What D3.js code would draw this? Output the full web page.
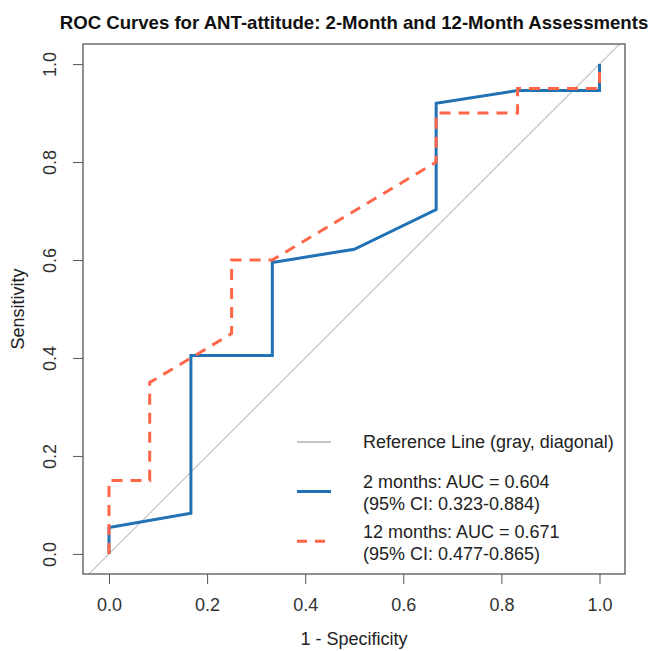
<!DOCTYPE html>
<html>
<head>
<meta charset="utf-8">
<script src="https://cdn.jsdelivr.net/npm/d3@7"></script>
<style>
	body { margin: 0; background: #fff; }
	svg text { font-family: "Liberation Sans", Arial, sans-serif; fill: #222; }
</style>
</head>
<body>
<div id="chart"></div>
<script>

// ROC points, x = 1 - specificity, y = sensitivity
var fpr2m = [0, 0, 0.167, 0.167, 0.333, 0.333, 0.5, 0.667, 0.667, 0.833, 1, 1];
var tpr2m = [0, 0.054, 0.083, 0.405, 0.405, 0.595, 0.622, 0.703, 0.92, 0.946, 0.946, 1];

var fpr12m = [0, 0, 0.083, 0.083, 0.167, 0.25, 0.25, 0.333, 0.5, 0.667, 0.667, 0.833, 0.833, 1, 1];
var tpr12m = [0, 0.15, 0.15, 0.35, 0.40, 0.45, 0.60, 0.60, 0.70, 0.80, 0.90, 0.90, 0.95, 0.95, 1];

var xTicks = [0, 0.2, 0.4, 0.6, 0.8, 1.0];
var yTicks = [0, 0.2, 0.4, 0.6, 0.8, 1.0];

var legendLabels = [
	["Reference Line (gray, diagonal)"],
	["2 months: AUC = 0.604", "(95% CI: 0.323-0.884)"],
	["12 months: AUC = 0.671", "(95% CI: 0.477-0.865)"]
];

var width = 648, height = 651;
var box = {left: 83, right: 625, top: 44, bottom: 574};

var colGray = "#c4c4c4", colBlue = "#2171b5", colRed = "#ff6647";

var svg = d3.select("#chart").append("svg")
			.attr("width", width)
			.attr("height", height);

var x = d3.scaleLinear().domain([-0.053, 1.052]).range([box.left, box.right]);
var y = d3.scaleLinear().domain([-0.041, 1.041]).range([box.bottom, box.top]);

svg.append("clipPath").attr("id", "plotclip")
	.append("rect")
	.attr("x", box.left).attr("y", box.top)
	.attr("width", box.right - box.left).attr("height", box.bottom - box.top);

// title
svg.append("text")
	.attr("x", 354)
	.attr("y", 29)
	.attr("text-anchor", "middle")
	.style("font-size", "18.6px")
	.style("font-weight", "bold")
	.style("fill", "#111")
	.text("ROC Curves for ANT-attitude: 2-Month and 12-Month Assessments");

// axes
var xAxis = d3.axisBottom(x).tickValues(xTicks).tickSize(10).tickPadding(14)
			.tickFormat(d3.format(".1f"));
var gx = svg.append("g").attr("transform", "translate(0," + box.bottom + ")").call(xAxis);
gx.select(".domain").remove();
gx.selectAll("line").attr("stroke", "#555");
gx.selectAll("text").style("font-size", "18px").style("fill", "#333").attr("font-family", null);

var yAxis = d3.axisLeft(y).tickValues(yTicks).tickSize(10).tickFormat(d3.format(".1f"));
var gy = svg.append("g").attr("transform", "translate(" + box.left + ",0)").call(yAxis);
gy.select(".domain").remove();
gy.selectAll("line").attr("stroke", "#555");
gy.selectAll("text")
	.attr("x", null).attr("dy", null)
	.attr("text-anchor", "middle")
	.attr("transform", "translate(-27,0) rotate(-90)")
	.style("font-size", "18px").style("fill", "#333").attr("font-family", null);

// axis labels
svg.append("text")
	.attr("x", (box.left + box.right) / 2)
	.attr("y", 645)
	.attr("text-anchor", "middle")
	.style("font-size", "18px")
	.text("1 - Specificity");

svg.append("text")
	.attr("transform", "translate(24," + ((box.top + box.bottom) / 2) + ") rotate(-90)")
	.attr("text-anchor", "middle")
	.style("font-size", "18px")
	.text("Sensitivity");

// reference diagonal
svg.append("line")
	.attr("clip-path", "url(#plotclip)")
	.attr("x1", x(-0.1)).attr("y1", y(-0.1))
	.attr("x2", x(1.1)).attr("y2", y(1.1))
	.attr("stroke", colGray)
	.attr("stroke-width", 1.2);

var line = d3.line().x(function(d) {return x(d[0]);}).y(function(d) {return y(d[1]);});

var pts2m = fpr2m.map(function(v, i) {return [v, tpr2m[i]];});
var pts12m = fpr12m.map(function(v, i) {return [v, tpr12m[i]];});

svg.append("path")
	.datum(pts2m)
	.attr("d", line)
	.attr("fill", "none")
	.attr("stroke", colBlue)
	.attr("stroke-width", 3);

svg.append("path")
	.datum(pts12m)
	.attr("d", line)
	.attr("fill", "none")
	.attr("stroke", colRed)
	.attr("stroke-width", 3)
	.attr("stroke-dasharray", "11,8");

// plot box
svg.append("rect")
	.attr("x", box.left).attr("y", box.top)
	.attr("width", box.right - box.left).attr("height", box.bottom - box.top)
	.attr("fill", "none")
	.attr("stroke", "#555")
	.attr("stroke-width", 1.3);

// legend (no frame)
var legendStyles = [
	{color: colGray, width: 2.2, dash: null},
	{color: colBlue, width: 3, dash: null},
	{color: colRed, width: 3, dash: "10,8"}
];

var legend = svg.append("g").attr("transform", "translate(297,442)");

var items = legend.selectAll("g")
			.data(legendLabels)
			.enter()
			.append("g")
			.attr("transform", function(d, i) {return "translate(0," + (i * 49.6) + ")";});

items.append("line")
	.attr("x1", 0).attr("x2", 34)
	.attr("y1", 0).attr("y2", 0)
	.attr("stroke", function(d, i) {return legendStyles[i].color;})
	.attr("stroke-width", function(d, i) {return legendStyles[i].width;})
	.attr("stroke-dasharray", function(d, i) {return legendStyles[i].dash;});

items.selectAll("text")
	.data(function(d) {
		return d.map(function(t, j) {return {text: t, row: j, n: d.length};});
	})
	.enter()
	.append("text")
	.attr("x", 66)
	.attr("y", function(d) {return d.n == 1 ? 0 : (d.row == 0 ? -9.5 : 12.5);})
	.attr("dy", "0.35em")
	.style("font-size", "18px")
	.text(function(d) {return d.text;});

</script>
</body>
</html>
